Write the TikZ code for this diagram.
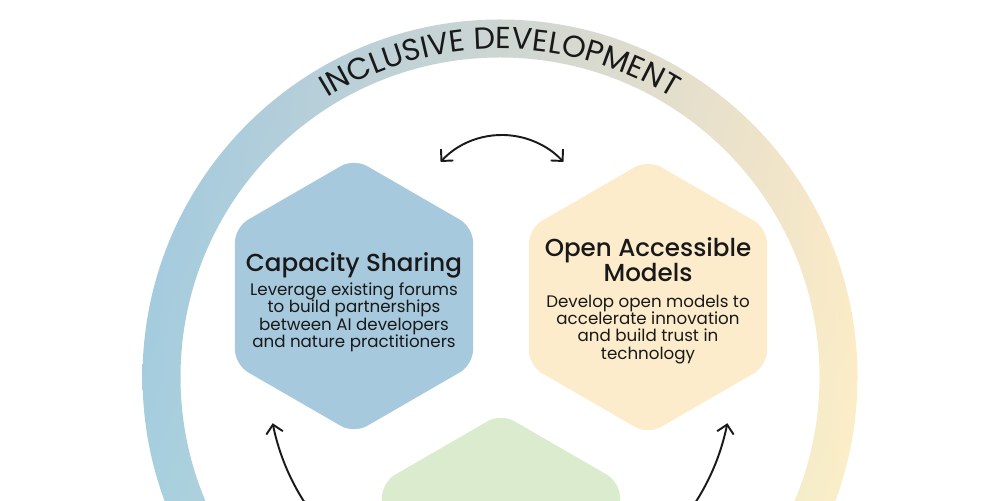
\documentclass[tikz,border=0pt]{standalone}
\usepackage{fontspec}
\setmainfont{Poppins}
\newfontfamily\mediumfont{Poppins Medium}
\usepackage{tikz}
\usetikzlibrary{shapes.geometric,shadings,arrows.meta,decorations.text,positioning}
\definecolor{ringblue}{RGB}{160,198,223}
\definecolor{ringteal}{RGB}{168,211,222}
\definecolor{ringsand}{RGB}{250,229,198}
\definecolor{ringlemon}{RGB}{253,244,200}
\definecolor{hexblue}{RGB}{166,201,221}
\definecolor{hexsand}{RGB}{253,236,203}
\definecolor{hexgreen}{RGB}{219,235,205}
\definecolor{ink}{RGB}{25,25,25}

\begin{document}
\begin{tikzpicture}[x=0.02cm, y=0.02cm,
    hexagon/.style={regular polygon, regular polygon sides=6, shape border rotate=30,
      minimum size=5.5cm, inner sep=0pt, rounded corners=0.3cm},
    hextitle/.style={font=\mediumfont\fontsize{14}{14.5}\selectfont, text=ink, inner sep=0pt, align=center, text depth=3pt},
    hexbody/.style={font=\fontsize{9.5}{9.9}\selectfont, text=ink, inner sep=0pt, align=center},
    cycle arrow/.style={ink, line width=1.1pt, -{Straight Barb[length=4.8pt,width=9.6pt]}},
    swap arrow/.style={cycle arrow, {Straight Barb[length=4.8pt,width=9.6pt]}-{Straight Barb[length=4.8pt,width=9.6pt]}}]
  \useasboundingbox (0,0) rectangle (1000,500);
  \clip (0,0) rectangle (1000,500);
  \coordinate (hub) at (500,123);
  \coordinate (swing) at (502,281.5);

  % outer ring with its title
  \shade[upper left=ringblue, upper right=ringsand, lower left=ringteal, lower right=ringlemon, even odd rule]
    (hub) circle[radius=357.5] (hub) circle[radius=319.5];
  \path[decorate, decoration={text along path, text align=center,
      text={|\fontsize{17.3}{17.3}\selectfont\color{ink}|INCLUSIVE{ }DEVELOPMENT}}]
    ([shift={(152:328)}]hub) arc[start angle=152, end angle=28, radius=328];

  % hexagons
  \node[hexagon, fill=hexblue] (share) at (354,204) {};
  \node[hexagon, fill=hexsand] (open) at (648,203) {};
  \node[hexagon, fill=hexgreen] (lower) at (501,-51) {};

  \node[hextitle, anchor=north] (shareT) at (354,248) {Capacity Sharing};
  \node[hexbody, below=3pt of shareT] (shareB) {Leverage existing forums\\to build partnerships\\between AI developers\\and nature practitioners};
  \node[hextitle, anchor=north] (openT) at (648,263) {Open Accessible\\Models};
  \node[hexbody, below=4pt of openT] (openB) {Develop open models to\\accelerate innovation\\and build trust in\\technology};

  % arrows between the hexagons
  \draw[swap arrow] ([shift={(137.4:83.5)}]swing) arc[start angle=137.4, end angle=42.6, radius=83.5];
  \draw[cycle arrow] ([shift={(250:232)}]hub) arc[start angle=250, end angle=191.5, radius=232];
  \draw[cycle arrow] ([shift={(290:232)}]hub) arc[start angle=290, end angle=348.5, radius=232];
\end{tikzpicture}
\end{document}
